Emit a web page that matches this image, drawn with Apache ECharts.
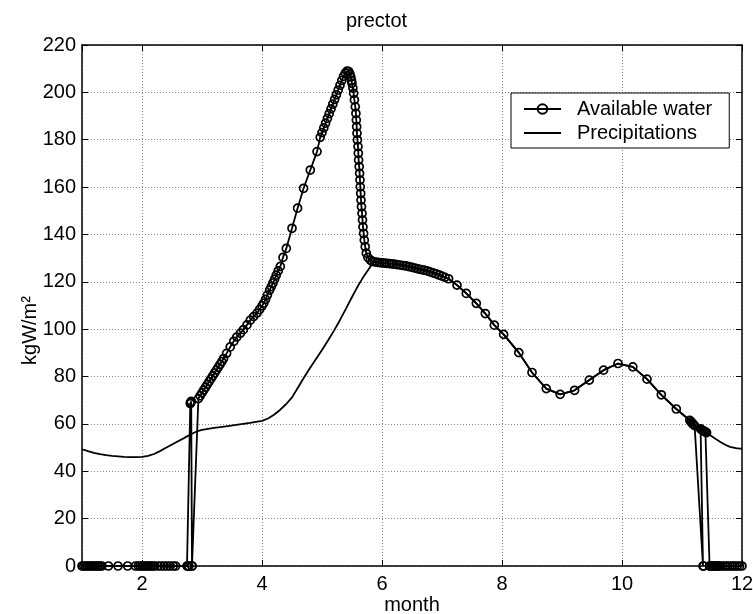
<!DOCTYPE html>
<html>
<head>
<meta charset="utf-8">
<script src="https://cdn.jsdelivr.net/npm/echarts@6/dist/echarts.min.js"></script>
<style>
html,body{margin:0;padding:0;background:#fff;}
#chart{width:753px;height:614px;}
</style>
</head>
<body>
<div id="chart"></div>
<script>
// ---- data ----
var titleText = 'prectot';
var xName = 'month';
var yName = 'kgW/m\u00B2';
var seriesNames = ['Available water', 'Precipitations'];

// Available water: head part (zeros, jump, rise, peak, fall)
var awHeadMonth = [1.00,1.03,1.06,1.09,1.12,1.15,1.18,1.21,1.24,1.27,1.30,1.33,1.44,1.60,1.76,1.89,
  1.94,1.97,2.00,2.03,2.06,2.09,2.12,2.15,2.18,2.21,2.27,2.32,2.37,2.42,2.47,2.52,2.56,
  2.75,2.76,2.77,2.78,2.805,2.81,2.815,2.82,2.833,2.835,
  2.94,2.97,3.00,3.03,3.06,3.09,3.12,3.15,3.18,3.21,3.24,3.27,3.30,3.33,3.36,3.41,3.47,3.53,3.58,3.64,3.69,
  3.75,3.805,3.86,3.917,3.96,4.00,4.03,4.06,4.09,4.127,4.155,4.183,4.21,4.238,4.27,4.305,4.35,4.405,
  4.50,4.593,4.693,4.805,4.917,4.97,5.00,5.03,5.06,5.09,5.12,5.15,5.18,5.21,5.24,5.27,5.30,5.33,5.36,5.39,
  5.42,5.445,5.465,5.48,5.492,5.50,5.515,5.527,5.54,5.555,5.565,5.572,5.578,5.583,5.59,5.60,5.605,5.61,
  5.62,5.627,5.633,5.638,5.645,5.65,5.658,5.667,5.675,5.683,5.694,5.705,5.72,5.738,5.765,5.805,5.84];
var awHeadValue = [0,0,0,0,0,0,0,0,0,0,0,0,0,0,0,0,
  0,0,0,0,0,0,0,0,0,0,0,0,0,0,0,0,0,
  0,0,0,0,68.6,68.9,69.2,69.5,0,0,
  70.7,71.9,73.1,74.3,75.5,76.7,77.9,79.1,80.3,81.5,82.7,83.9,85.1,86.3,87.6,89.8,92.5,94.9,96.7,98.3,99.8,
  101.8,103.8,105.3,106.8,108.3,109.8,111.0,112.6,114.4,116.5,118.0,119.5,121.1,122.8,124.6,126.5,130.3,134.1,
  142.6,151.1,159.5,167.2,175.0,181.0,183.0,185.0,187.0,189.0,191.0,193.0,195.0,197.0,199.0,201.0,203.0,205.0,206.8,208.2,
  209.0,208.8,207.8,206.5,205.0,203.8,201.8,199.6,196.8,193.9,191.1,188.3,185.5,182.7,179.9,177.1,174.3,171.4,
  168.6,165.8,163.0,160.1,157.3,154.5,151.7,148.9,146.1,143.2,140.4,137.6,134.8,132.1,130.3,129.2,128.6];

// Shared stretch where both curves coincide
var sharedMonth = [5.88,5.92,5.96,6.00,6.04,6.08,6.12,6.16,6.20,6.25,6.30,6.35,6.40,6.45,6.50,6.55,6.60,6.65,
  6.70,6.75,6.80,6.85,6.90,6.95,7.00,7.05,7.11,7.25,7.405,7.572,7.722,7.872,8.027,8.28,8.50,8.738,8.97,
  9.21,9.455,9.693,9.933,10.18,10.417,10.655,10.905,11.13,11.15,11.17,11.19,11.21];
var sharedValue = [128.4,128.2,128.1,128.0,127.9,127.8,127.7,127.6,127.5,127.3,127.1,126.9,126.7,126.4,126.1,125.8,125.5,125.2,
  124.9,124.6,124.2,123.8,123.4,122.9,122.4,121.9,121.3,118.6,115.1,110.9,106.6,101.7,97.8,90.1,81.7,74.9,72.5,
  74.2,78.5,82.7,85.5,84.1,78.9,72.3,66.3,61.5,60.9,60.3,59.8,59.3];

// Available water: tail (drops to zero and zeros till the end)
var awTailMonth = [11.35,11.36,11.31,11.33,11.35,11.37,11.39,11.41,11.46,11.47,11.49,11.51,11.53,11.55,11.57,11.59,
  11.61,11.64,11.68,11.72,11.76,11.80,11.84,11.88,11.92,11.96,12.00];
var awTailValue = [0,0,57.9,57.5,57.2,56.9,56.6,56.3,0,0,0,0,0,0,0,0,
  0,0,0,0,0,0,0,0,0,0,0];

// Precipitations: head and tail
var prHeadMonth = [1.0,1.1,1.2,1.3,1.4,1.5,1.6,1.7,1.8,1.9,2.0,2.1,2.2,2.3,2.4,2.5,2.6,2.7,2.8,2.9,3.0,3.1,3.2,
  3.4,3.6,3.8,4.0,4.1,4.2,4.3,4.4,4.5,4.6,4.7,4.8,4.9,5.0,5.1,5.2,5.3,5.4,5.5,5.6,5.7,5.8,5.86];
var prHeadValue = [49.3,48.5,47.8,47.2,46.8,46.5,46.3,46.1,46.0,46.0,46.1,46.5,47.3,48.5,49.9,51.3,52.7,54.0,55.4,56.7,57.5,57.9,58.3,
  59.0,59.7,60.4,61.3,62.3,63.9,65.9,68.3,71.2,75.4,79.6,83.6,87.4,91.2,95.2,99.4,103.9,108.7,113.6,118.3,122.5,126.2,128.4];
var prTailMonth = [11.25,11.30,11.35,11.41,11.47,11.55,11.64,11.72,11.80,11.90,12.00];
var prTailValue = [58.7,57.9,57.2,56.3,55.2,53.8,52.4,51.2,50.3,49.8,49.5];

var yTicks = [0,20,40,60,80,100,120,140,160,180,200,220];

// ---- build ----
function pairs(ms, vs) { var out = []; for (var i = 0; i < ms.length; i++) out.push([ms[i], vs[i]]); return out; }
var awData = pairs(awHeadMonth, awHeadValue).concat(pairs(sharedMonth, sharedValue), pairs(awTailMonth, awTailValue));
var prData = pairs(prHeadMonth, prHeadValue).concat(pairs(sharedMonth, sharedValue), pairs(prTailMonth, prTailValue));

var FONT = 'Liberation Sans, Arial, Helvetica, sans-serif';
var FS = 20;
var gridLine = { show: true, lineStyle: { color: '#8a8a8a', width: 1, type: [1, 2] } };
var boxLine = { show: true, onZero: false, lineStyle: { color: '#000', width: 1.5 } };
var inTick = { show: true, inside: true, length: 6, lineStyle: { color: '#000' } };

var chart = echarts.init(document.getElementById('chart'), null, { renderer: 'canvas' });
chart.setOption({
  animation: false,
  backgroundColor: '#ffffff',
  title: {
    text: titleText, left: 'center', top: 6,
    textStyle: { fontFamily: FONT, fontSize: FS, fontWeight: 'normal', color: '#000' }
  },
  grid: { left: 82, right: 11, top: 45, bottom: 48, containLabel: false, outerBoundsMode: 'none' },
  legend: {
    orient: 'vertical', left: 511, top: 93,
    backgroundColor: '#fff', borderColor: '#000', borderWidth: 1,
    padding: [6, 17, 5, 12],
    itemWidth: 37, itemHeight: 12, itemGap: 4,
    textStyle: { fontFamily: FONT, fontSize: FS, color: '#000', lineHeight: 20, padding: [0, 0, 0, 11] },
    data: [
      { name: seriesNames[0] },
      { name: seriesNames[1], itemStyle: { opacity: 0 } }
    ]
  },
  xAxis: [{
    type: 'value', min: 1, max: 12, splitNumber: 6, position: 'bottom',
    name: xName, nameLocation: 'middle', nameGap: 29, nameMoveOverlap: false,
    nameTextStyle: { fontFamily: FONT, fontSize: FS, color: '#000' },
    axisLine: boxLine, axisTick: inTick,
    axisLabel: { showMinLabel: false, margin: 8, fontFamily: FONT, fontSize: FS, color: '#000' },
    splitLine: gridLine
  }, {
    type: 'value', min: 1, max: 12, splitNumber: 6, position: 'top',
    axisLine: boxLine, axisTick: inTick,
    axisLabel: { show: false }, splitLine: { show: false }
  }],
  yAxis: [{
    type: 'value', min: yTicks[0], max: yTicks[yTicks.length - 1], interval: 20, position: 'left',
    name: yName, nameLocation: 'middle', nameGap: 42, nameRotate: 90, nameMoveOverlap: false,
    nameTextStyle: { fontFamily: FONT, fontSize: FS, color: '#000', padding: [0, 50, 0, 0] },
    axisLine: boxLine, axisTick: inTick,
    axisLabel: { margin: 6, fontFamily: FONT, fontSize: FS, color: '#000' },
    splitLine: gridLine
  }, {
    type: 'value', min: yTicks[0], max: yTicks[yTicks.length - 1], interval: 20, position: 'right',
    axisLine: boxLine, axisTick: inTick,
    axisLabel: { show: false }, splitLine: { show: false }
  }],
  series: [{
    name: seriesNames[0], type: 'line', xAxisIndex: 0, yAxisIndex: 0,
    data: awData, symbol: 'circle', symbolSize: 8, showAllSymbol: true,
    lineStyle: { color: '#000', width: 1.8 },
    itemStyle: { color: 'rgba(255,255,255,0)', borderColor: '#000', borderWidth: 1.7 },
    emphasis: { disabled: true }, z: 3
  }, {
    name: seriesNames[1], type: 'line', xAxisIndex: 0, yAxisIndex: 0,
    data: prData, showSymbol: false, symbol: 'none',
    lineStyle: { color: '#000', width: 1.8 },
    itemStyle: { color: '#000' },
    emphasis: { disabled: true }, z: 2
  }]
});
</script>
</body>
</html>
